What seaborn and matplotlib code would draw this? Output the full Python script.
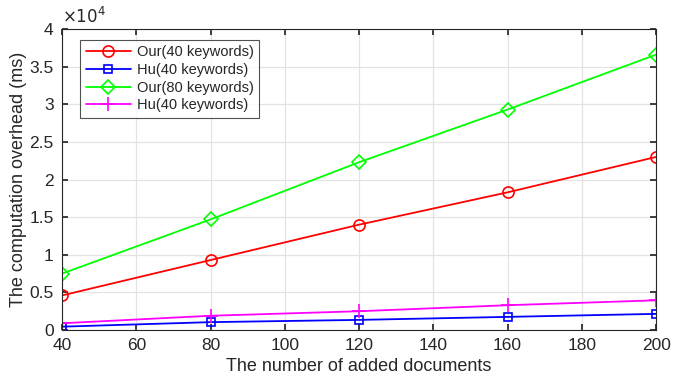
import matplotlib
matplotlib.use("Agg")
import matplotlib.pyplot as plt
import seaborn as sns
import pandas as pd

sns.set_theme(style="white")
plt.rcParams['font.family'] = ['Liberation Sans', 'DejaVu Sans']

docs = [40, 80, 120, 160, 200]
our40 = [4600, 9300, 14000, 18300, 23000]
hu40_blue = [450, 1050, 1350, 1750, 2150]
our80 = [7500, 14700, 22300, 29300, 36600]
hu40_mag = [900, 1900, 2500, 3300, 3950]

labels = ["Our(40 keywords)", "Hu(40 keywords)", "Our(80 keywords)", "Hu(40 keywords) "]
series = [our40, hu40_blue, our80, hu40_mag]
colors = ["#ff0000", "#0000ff", "#00ff00", "#ff00ff"]
markers = ["o", "s", "D", "+"]
msizes = [8, 6, 7, 10]

fig = plt.figure(figsize=(6.86, 3.82), dpi=100)
ax = fig.add_axes([0.0904, 0.136, 0.866, 0.788])

for lab, vals, c, m, ms in zip(labels, series, colors, markers, msizes):
    df = pd.DataFrame({"x": docs, "y": vals})
    sns.lineplot(data=df, x="x", y="y", ax=ax, color=c, marker=m, markersize=ms,
                 markerfacecolor="none", markeredgecolor=c, markeredgewidth=1.2,
                 linewidth=1.3, label=lab)

ax.set_xlim(40, 200)
ax.set_ylim(0, 40000)
ax.set_xticks([40, 60, 80, 100, 120, 140, 160, 180, 200])
ax.set_yticks([0, 5000, 10000, 15000, 20000, 25000, 30000, 35000, 40000])
ax.set_yticklabels(["0", "0.5", "1", "1.5", "2", "2.5", "3", "3.5", "4"])
ax.grid(True, color="#e3e3e3", linewidth=0.9)
for s in ax.spines.values():
    s.set_color("#262626")
    s.set_linewidth(0.8)
ax.tick_params(direction="in", length=4, labelsize=12.5, colors="#262626", pad=6,
               top=True, right=True, bottom=True, left=True)
ax.set_xlabel("The number of added documents", fontsize=13, color="#262626", labelpad=3)
ax.set_ylabel("The computation overhead (ms)", fontsize=13, color="#262626", labelpad=2)
ax.text(0.0, 1.01, r"$\times10^4$", transform=ax.transAxes, fontsize=12,
        color="#262626", ha="left", va="bottom")

leg = ax.legend(loc="upper left", bbox_to_anchor=(0.03, 0.965), borderaxespad=0,
                fontsize=10.5, frameon=True, fancybox=False, edgecolor="#262626",
                handlelength=3.1, borderpad=0.4, labelspacing=0.25, handletextpad=0.4)
leg.get_frame().set_linewidth(0.8)
leg.texts[3].set_text("Hu(40 keywords)")

fig.savefig("out.png", dpi=100)
